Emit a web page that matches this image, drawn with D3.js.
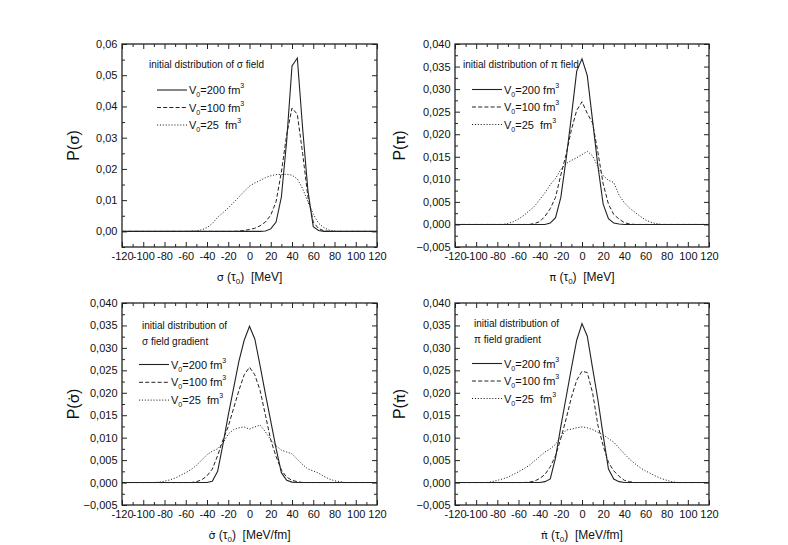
<!DOCTYPE html>
<html>
<head>
<meta charset="utf-8">
<script src="https://cdn.jsdelivr.net/npm/d3@7"></script>
<style>
  body { margin: 0; background: #fff; }
  text { font-family: "Liberation Sans", Arial, sans-serif; fill: #111; }
</style>
</head>
<body>
<svg id="chart" width="788" height="545"></svg>
<script>
// x grid of the distributions (MeV or MeV/fm)
const xs = [-120,-115,-110,-105,-100,-95,-90,-85,-80,-75,-70,-65,-60,-55,-50,-45,-40,-35,-30,-25,-20,-15,-10,-5,0,5,10,15,20,25,30,35,40,45,50,55,60,65,70,75,80,85,90,95,100,105,110,115,120];

const xMajor = [-120,-100,-80,-60,-40,-20,0,20,40,60,80,100,120];
const xMinor = [-110,-90,-70,-50,-30,-10,10,30,50,70,90,110];
const yTicksSigma = [0,0.01,0.02,0.03,0.04,0.05,0.06];
const yMinorSigma = [-0.005,0.005,0.015,0.025,0.035,0.045,0.055];
const yTicksOther = [-0.005,0,0.005,0.01,0.015,0.02,0.025,0.03,0.035,0.04];
const yMinorOther = [-0.0025,0.0025,0.0075,0.0125,0.0175,0.0225,0.0275,0.0325,0.0375];

const legendLabels = ['200', '100', '25 '];

// sigma field
const sigma200 = [0,0,0,0,0,0,0,0,0,0,0,0,0,0,0,0,0,0,0,0,0,0,0,0,0,0,0,
  0.0001,0.0008,0.003,0.011,0.029,0.053,0.0555,0.033,0.013,0.0015,0.0003,
  0,0,0,0,0,0,0,0,0,0,0];
const sigma100 = [0,0,0,0,0,0,0,0,0,0,0,0,0,0,0,0,0,0,0,0,0,0,
  0.0001,0.0003,0.0006,0.001,0.0018,0.003,0.0052,0.0095,0.019,0.031,0.0395,0.0375,0.025,0.011,0.003,0.0009,0.0002,
  0,0,0,0,0,0,0,0,0,0];
const sigma25 = [0,0,0,0,0,0,0,0,0,0,0,0,0,
  0.0001,0.0002,0.0005,0.0012,0.0025,0.0045,0.006,0.0075,0.0092,0.011,0.0128,0.0145,0.0155,0.0163,0.0172,0.0178,
  0.0182,0.0182,0.0183,0.018,0.0168,0.0137,0.0095,0.0055,0.0026,0.0012,0.0004,0.0001,
  0,0,0,0,0,0,0,0];

// pi field
const pi200 = [0,0,0,0,0,0,0,0,0,0,0,0,0,0,0,0,0,0,
  0.0003,0.0015,0.006,0.0145,0.024,0.034,0.0367,0.033,0.023,0.013,0.0045,0.0013,0.0003,0.0001,
  0,0,0,0,0,0,0,0,0,0,0,0,0,0,0,0,0];
const pi100 = [0,0,0,0,0,0,0,0,0,0,0,0,0,0,0,
  0.0002,0.0006,0.0018,0.0035,0.006,0.011,0.0155,0.021,0.0253,0.0272,0.0246,0.0225,0.016,0.009,0.0045,0.0022,0.0012,0.0004,0.0001,
  0,0,0,0,0,0,0,0,0,0,0,0,0,0,0];
const pi25 = [0,0,0,0,0,0,0,0,0,0,
  0.0002,0.0006,0.0012,0.002,0.003,0.004,0.0055,0.007,0.0088,0.0102,0.0122,0.0135,0.0142,0.0148,0.0155,
  0.0162,0.0152,0.0128,0.0108,0.0098,0.0093,0.0065,0.0048,0.0036,0.0027,0.0018,0.001,0.0005,0.0002,
  0,0,0,0,0,0,0,0,0,0];

// sigma field gradient
const sigmaDot200 = [0,0,0,0,0,0,0,0,0,0,0,0,0,0,0,0,0,
  0.0003,0.0025,0.0085,0.015,0.021,0.027,0.0317,0.0348,0.032,0.026,0.0197,0.0137,0.0076,0.0022,0.0005,0.0001,
  0,0,0,0,0,0,0,0,0,0,0,0,0,0,0,0];
const sigmaDot100 = [0,0,0,0,0,0,0,0,0,0,0,0,0,0,
  0.0002,0.0006,0.0015,0.003,0.006,0.0095,0.0125,0.0165,0.0205,0.024,0.0257,0.024,0.0205,0.015,0.0095,0.0058,0.0028,0.0012,0.0005,0.0002,
  0,0,0,0,0,0,0,0,0,0,0,0,0,0,0];
const sigmaDot25 = [0,0,0,0,0,0,0,
  0.0001,0.0003,0.0006,0.001,0.0016,0.0022,0.0029,0.0038,0.005,0.0062,0.007,0.0075,0.0088,0.0108,0.0118,0.0122,0.0124,
  0.0119,0.0124,0.0128,0.0113,0.0095,0.0082,0.0072,0.0068,0.0064,0.0052,0.004,0.003,0.0026,0.0021,0.0014,0.0008,0.0004,0.0002,
  0,0,0,0,0,0,0];

// pi field gradient
const piDot200 = [0,0,0,0,0,0,0,0,0,0,0,0,0,0,0,0,0,
  0.0002,0.0008,0.0055,0.0125,0.019,0.0255,0.0317,0.0354,0.0326,0.0255,0.0185,0.0105,0.003,0.0008,0.0002,
  0,0,0,0,0,0,0,0,0,0,0,0,0,0,0,0,0];
const piDot100 = [0,0,0,0,0,0,0,0,0,0,0,0,0,0,
  0.0001,0.0003,0.0009,0.0018,0.0035,0.006,0.0098,0.0142,0.019,0.0228,0.0248,0.0245,0.02,0.0128,0.0082,0.0045,0.0026,0.0014,0.0005,0.0002,
  0,0,0,0,0,0,0,0,0,0,0,0,0,0,0];
const piDot25 = [0,0,0,0,0,0,0,
  0.0002,0.0005,0.0008,0.0012,0.0018,0.0024,0.0031,0.0038,0.0048,0.0058,0.0068,0.0075,0.0085,0.0102,0.0117,0.0119,0.0122,
  0.0124,0.0122,0.0118,0.0112,0.0106,0.0098,0.009,0.0077,0.0064,0.0052,0.0042,0.0033,0.0026,0.002,0.0014,0.0009,0.0005,0.0002,
  0,0,0,0,0,0,0];

const dashes = [null, '4,2.2', '1.1,1.8'];

const panels = [
  { left: 122, right: 377, top: 44, bottom: 247, yMax: 0.06, yTicks: yTicksSigma, yMinor: yMinorSigma, fmt: '.2f',
    series: [sigma200, sigma100, sigma25], sym: 'σ', dot: false, unit: 'MeV',
    note: ['initial distribution of σ field'], noteX: 149, noteY: 67.5,
    legX: 157, legY: 90, legGap: 17.5, yTitleX: 73 },
  { left: 455, right: 709, top: 44, bottom: 247, yMax: 0.04, yTicks: yTicksOther, yMinor: yMinorOther, fmt: '.3f',
    series: [pi200, pi100, pi25], sym: 'π', dot: false, unit: 'MeV',
    note: ['initial distribution of π field'], noteX: 463, noteY: 67.5,
    legX: 472, legY: 89.5, legGap: 17.5, yTitleX: 399 },
  { left: 122, right: 377, top: 303, bottom: 505, yMax: 0.04, yTicks: yTicksOther, yMinor: yMinorOther, fmt: '.3f',
    series: [sigmaDot200, sigmaDot100, sigmaDot25], sym: 'σ', dot: true, unit: 'MeV/fm',
    note: ['initial distribution of', ' σ field gradient'], noteX: 142, noteY: 328.5,
    legX: 139, legY: 364.5, legGap: 17.8, yTitleX: 73 },
  { left: 455, right: 709, top: 303, bottom: 505, yMax: 0.04, yTicks: yTicksOther, yMinor: yMinorOther, fmt: '.3f',
    series: [piDot200, piDot100, piDot25], sym: 'π', dot: true, unit: 'MeV/fm',
    note: ['initial distribution of', 'π field gradient'], noteX: 474, noteY: 326.5,
    legX: 472, legY: 363.5, legGap: 17.5, yTitleX: 399 }
];

const svg = d3.select('#chart');

// greek symbol, with a dot above it for the time derivative
const addSym = (t, p, size) => {
  const s = t.append('tspan').attr('font-family', '"DejaVu Sans", sans-serif')
    .attr('font-size', size * 0.92).text(p.dot ? p.sym + '\u0307' : p.sym);
  return s;
};

panels.forEach(p => {
  const x = d3.scaleLinear().domain([-120, 120]).range([p.left, p.right]);
  const y = d3.scaleLinear().domain([-0.005, p.yMax]).range([p.bottom, p.top]);
  const comma = v => d3.format(p.fmt)(v).replace('.', ',');
  const g = svg.append('g');

  const tidy = a => a.call(s => s.select('.domain').remove())
    .call(s => s.selectAll('.tick line').attr('stroke', '#222').attr('stroke-width', 1))
    .call(s => s.selectAll('.tick text').attr('font-size', 11).attr('fill', '#111')
      .attr('font-family', '"Liberation Sans", Arial, sans-serif'));

  // bottom / top ticks
  g.append('g').attr('transform', `translate(0,${p.bottom})`)
    .call(d3.axisBottom(x).tickValues(xMajor).tickSize(-5).tickPadding(5).tickFormat(d => String(d))).call(tidy);
  g.append('g').attr('transform', `translate(0,${p.bottom})`)
    .call(d3.axisBottom(x).tickValues(xMinor).tickSize(-3).tickFormat('')).call(tidy);
  g.append('g').attr('transform', `translate(0,${p.top})`)
    .call(d3.axisTop(x).tickValues(xMajor).tickSize(-5).tickFormat('')).call(tidy);
  g.append('g').attr('transform', `translate(0,${p.top})`)
    .call(d3.axisTop(x).tickValues(xMinor).tickSize(-3).tickFormat('')).call(tidy);

  // left / right ticks
  g.append('g').attr('transform', `translate(${p.left},0)`)
    .call(d3.axisLeft(y).tickValues(p.yTicks).tickSize(-5).tickPadding(4.5).tickFormat(comma)).call(tidy);
  g.append('g').attr('transform', `translate(${p.left},0)`)
    .call(d3.axisLeft(y).tickValues(p.yMinor).tickSize(-3).tickFormat('')).call(tidy);
  g.append('g').attr('transform', `translate(${p.right},0)`)
    .call(d3.axisRight(y).tickValues(p.yTicks.filter(v => v > -0.005)).tickSize(-5).tickFormat('')).call(tidy);
  g.append('g').attr('transform', `translate(${p.right},0)`)
    .call(d3.axisRight(y).tickValues(p.yMinor).tickSize(-3).tickFormat('')).call(tidy);

  // curves
  const line = d3.line().x((d, i) => x(xs[i])).y(d => y(d));
  p.series.forEach((s, k) => {
    g.append('path').datum(s)
      .attr('d', line)
      .attr('fill', 'none')
      .attr('stroke', '#222')
      .attr('stroke-width', k === 0 ? 1.1 : 1.0)
      .attr('stroke-dasharray', dashes[k]);
  });

  // frame
  g.append('rect')
    .attr('x', p.left).attr('y', p.top)
    .attr('width', p.right - p.left).attr('height', p.bottom - p.top)
    .attr('fill', 'none').attr('stroke', '#222').attr('stroke-width', 1.3);

  // annotation
  p.note.forEach((t, i) => {
    g.append('text').attr('x', p.noteX).attr('y', p.noteY + i * 16.5)
      .attr('font-size', 10).text(t);
  });

  // legend
  legendLabels.forEach((lab, k) => {
    const ly = p.legY + k * p.legGap;
    g.append('line')
      .attr('x1', p.legX).attr('x2', p.legX + 30)
      .attr('y1', ly).attr('y2', ly)
      .attr('stroke', '#222').attr('stroke-width', k === 0 ? 1.1 : 1.0)
      .attr('stroke-dasharray', dashes[k]);
    const t = g.append('text').attr('x', p.legX + 32).attr('y', ly + 4)
      .attr('font-size', 11).attr('xml:space', 'preserve');
    t.append('tspan').text('V');
    t.append('tspan').attr('font-size', 7).attr('dy', 3).text('0');
    t.append('tspan').attr('dy', -3).text('=' + lab + ' fm');
    t.append('tspan').attr('font-size', 7).attr('dy', -6).text('3');
  });

  // x title
  const cx = (p.left + p.right) / 2;
  const xt = g.append('text').attr('x', cx).attr('y', p.bottom + 33.5)
    .attr('text-anchor', 'middle').attr('font-size', 12).attr('xml:space', 'preserve');
  addSym(xt, p, 12);
  xt.append('tspan').text(' (τ');
  xt.append('tspan').attr('font-size', 8).attr('dy', 3).text('0');
  xt.append('tspan').attr('dy', -3).text(')  [' + p.unit + ']');

  // y title
  const cy = (p.top + p.bottom) / 2;
  const yt = g.append('text')
    .attr('transform', `translate(${p.yTitleX + 6},${cy}) rotate(-90)`)
    .attr('text-anchor', 'middle').attr('font-size', 16);
  yt.append('tspan').text('P(');
  addSym(yt, p, 16);
  yt.append('tspan').text(')');
});
</script>
</body>
</html>
